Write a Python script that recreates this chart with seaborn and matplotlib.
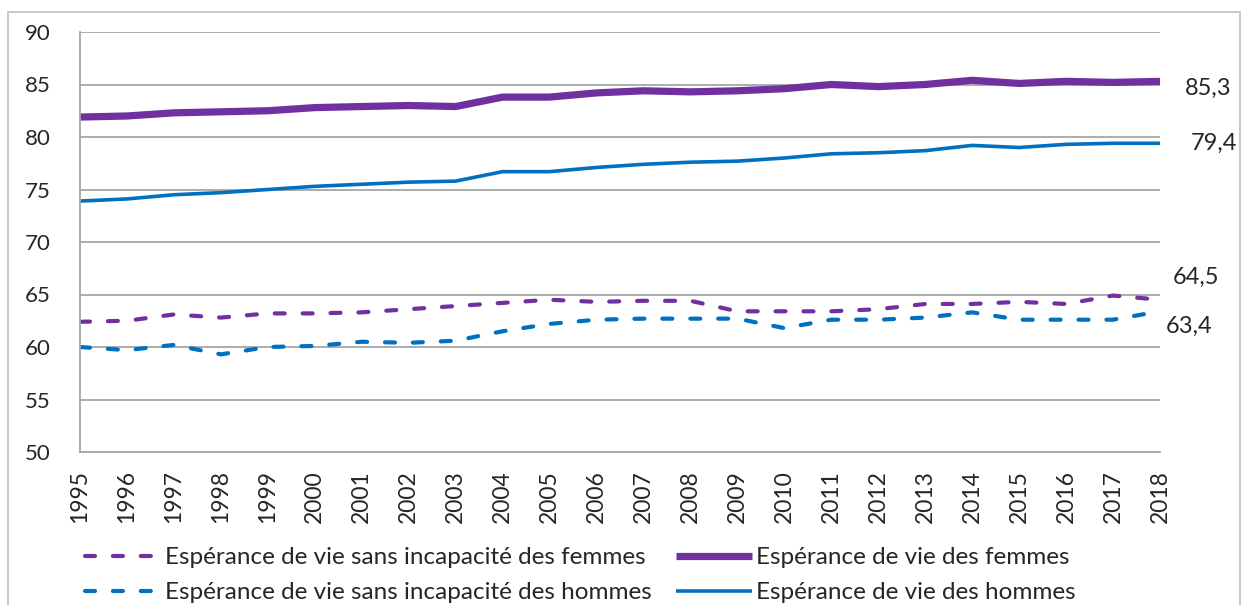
import pandas as pd
import numpy as np
import matplotlib.pyplot as plt
import seaborn as sns
from matplotlib.patches import Rectangle

sns.set_style("white")
plt.rcParams['font.family'] = ['Lato', 'DejaVu Sans']

years = list(range(1995, 2019))

# espérance de vie sans incapacité (EVSI) et espérance de vie, femmes / hommes
evsi_femmes = [62.4, 62.5, 63.1, 62.8, 63.2, 63.2, 63.3, 63.6, 63.9, 64.2, 64.5, 64.3,
               64.4, 64.4, 63.4, 63.4, 63.4, 63.6, 64.1, 64.1, 64.3, 64.1, 64.9, 64.5]
ev_femmes = [81.9, 82.0, 82.3, 82.4, 82.5, 82.8, 82.9, 83.0, 82.9, 83.8, 83.8, 84.2,
             84.4, 84.3, 84.4, 84.6, 85.0, 84.8, 85.0, 85.4, 85.1, 85.3, 85.2, 85.3]
evsi_hommes = [60.0, 59.7, 60.2, 59.3, 60.0, 60.1, 60.5, 60.4, 60.6, 61.5, 62.2, 62.6,
               62.7, 62.7, 62.7, 61.8, 62.6, 62.6, 62.8, 63.3, 62.6, 62.6, 62.6, 63.4]
ev_hommes = [73.9, 74.1, 74.5, 74.7, 75.0, 75.3, 75.5, 75.7, 75.8, 76.7, 76.7, 77.1,
             77.4, 77.6, 77.7, 78.0, 78.4, 78.5, 78.7, 79.2, 79.0, 79.3, 79.4, 79.4]

labels = ["Espérance de vie sans incapacité des femmes",
          "Espérance de vie des femmes",
          "Espérance de vie sans incapacité des hommes",
          "Espérance de vie des hommes"]
end_labels = ["64,5", "85,3", "63,4", "79,4"]

purple = '#7030A0'
blue = '#0070C0'
grid_col = '#A6A6A6'

fig = plt.figure(figsize=(12.42, 6.05), dpi=100)
ax = fig.add_axes([80/1242, 1 - 452/605, 1080/1242, 420/605])

dash = (0, (2.4, 4.3))
styles = [
    (evsi_femmes, purple, 3.0, dash),
    (ev_femmes, purple, 5.2, '-'),
    (evsi_hommes, blue, 3.0, dash),
    (ev_hommes, blue, 2.6, '-'),
]
for (vals, col, lw, ls), lab in zip(styles, labels):
    df = pd.DataFrame({'annee': years, 'valeur': vals})
    sns.lineplot(data=df, x='annee', y='valeur', ax=ax, color=col, linewidth=lw,
                 linestyle=ls, label=lab, solid_capstyle='butt', dash_capstyle='round')

ax.set_xlim(1995, 2018)
ax.set_ylim(50, 90)
ax.set_yticks(range(50, 91, 5))
ax.set_xticks(years)
ax.set_xticklabels([str(y) for y in years], rotation=90)
ax.set_xlabel('')
ax.set_ylabel('')
ax.yaxis.grid(True, color=grid_col, linewidth=1.3)
ax.xaxis.grid(False)
for s in ['top', 'right']:
    ax.spines[s].set_visible(False)
for s in ['left', 'bottom']:
    ax.spines[s].set_color(grid_col)
    ax.spines[s].set_linewidth(1.3)
ax.tick_params(axis='both', which='major', length=7, width=1.3, color=grid_col,
               labelsize=16, pad=6)
ax.tick_params(axis='x', labelsize=16.5)
ax.tick_params(axis='y', pad=14)

# valeurs finales
offsets = [(9, 16), (18, -5), (4, -11), (22, 0)]
for vals, txt, (dx, dy) in zip([evsi_femmes, ev_femmes, evsi_hommes, ev_hommes], end_labels, offsets):
    ax.annotate(txt, xy=(years[-1], vals[-1]), xytext=(dx, dy), textcoords='offset points',
                fontsize=17, va='center', ha='left', annotation_clip=False)

ax.legend_.remove()
handles, lbls = ax.get_legend_handles_labels()
order = [0, 2, 1, 3]
fig.legend([handles[i] for i in order], [lbls[i] for i in order], ncol=2,
           loc='upper left', bbox_to_anchor=(85/1242, 1 - 547/605),
           frameon=False, fontsize=17.5, handlelength=3.1, handletextpad=0.2,
           columnspacing=1.0, labelspacing=0.58, borderpad=0, borderaxespad=0)

fig.patches.append(Rectangle((8/1242, -0.01), 1232/1242, 1 - 12/605 + 0.01,
                             transform=fig.transFigure, fill=False,
                             edgecolor='#BFBFBF', linewidth=1.2))

fig.savefig('out.png', dpi=100)
